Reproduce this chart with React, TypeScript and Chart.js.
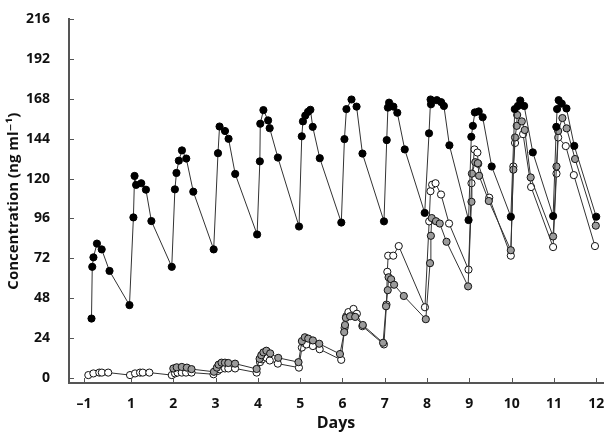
import React, { useEffect, useRef } from 'react';
import { Chart, registerables } from 'chart.js';

Chart.register(...registerables);

// Black (filled) series
const blackDays = [
  0.065, 0.083, 0.111, 0.194, 0.306, 0.491, 0.963,
  1.056, 1.083, 1.12, 1.241, 1.352, 1.481, 1.963,
  2.037, 2.074, 2.13, 2.204, 2.306, 2.472, 2.954,
  3.056, 3.093, 3.222, 3.306, 3.463, 3.981,
  4.046, 4.056, 4.13, 4.241, 4.278, 4.472, 4.972,
  5.037, 5.065, 5.12, 5.185, 5.241, 5.296, 5.463, 5.972,
  6.046, 6.093, 6.213, 6.333, 6.472, 6.981,
  7.046, 7.074, 7.102, 7.204, 7.296, 7.472, 7.944,
  8.046, 8.083, 8.093, 8.231, 8.333, 8.398, 8.528, 8.981,
  9.046, 9.083, 9.13, 9.222, 9.315, 9.528, 9.981,
  10.074, 10.148, 10.204, 10.296, 10.5, 10.981,
  11.056, 11.074, 11.111, 11.185, 11.296, 11.481, 12.0,
];
const blackConc = [
  35.6, 66.8, 72.5, 80.8, 77.3, 64.3, 43.7,
  96.6, 121.6, 116.2, 117.2, 113.3, 94.4, 66.8,
  113.5, 123.4, 130.8, 137.0, 132.1, 112.1, 77.3,
  135.3, 151.4, 148.7, 144.0, 122.8, 86.3,
  130.4, 153.1, 161.3, 155.1, 150.4, 132.7, 91.1,
  145.5, 154.5, 158.0, 160.3, 161.5, 151.2, 132.3, 93.5,
  143.8, 161.9, 167.7, 163.4, 135.1, 94.2,
  143.2, 162.8, 165.8, 163.4, 159.7, 137.6, 99.3,
  147.3, 167.7, 164.8, 167.3, 166.1, 163.8, 140.1, 95.0,
  145.2, 151.8, 159.9, 160.5, 157.0, 127.3, 97.0,
  161.9, 163.8, 167.1, 163.8, 135.8, 97.4,
  151.2, 161.9, 167.3, 165.2, 162.3, 139.7, 97.0,
];

// Open (white) series
const whiteDays = [
  -0.01, 0.11, 0.25, 0.31, 0.46,
  0.976, 1.095, 1.213, 1.277, 1.433,
  1.963, 2.04, 2.1, 2.2, 2.3, 2.43,
  2.95, 3.05, 3.1, 3.22, 3.3, 3.46,
  3.97, 4.05, 4.1, 4.2, 4.28, 4.47,
  4.97, 5.04, 5.08, 5.15, 5.3, 5.46,
  5.97, 6.05, 6.09, 6.14, 6.26, 6.34, 6.47,
  6.98, 7.04, 7.06, 7.08, 7.2, 7.33,
  7.95, 8.05, 8.08, 8.12, 8.2, 8.33, 8.52,
  8.98, 9.05, 9.12, 9.19, 9.21, 9.47,
  9.98, 10.04, 10.08, 10.27, 10.46,
  10.98, 11.06, 11.1, 11.28, 11.47,
  11.97,
];
const whiteConc = [
  1.5, 2.5, 3, 3, 3,
  1.5, 2.5, 3, 3, 3,
  1.5, 2.5, 3, 3, 3, 3,
  2, 4, 5, 5.5, 5.5, 5.5,
  3, 9.3, 11, 12, 10.3, 8.4,
  6, 18.1, 21, 20, 19, 17.1,
  10.7, 30, 37, 39.5, 41.4, 38.5, 31,
  20, 44, 63.8, 73.5, 73.5, 79.3,
  42.4, 94.2, 112.4, 116.3, 117.2, 110.4, 92.9,
  65.1, 117.2, 137.6, 135.7, 128.9, 108.5,
  73.5, 127.3, 141.5, 146.8, 114.9,
  78.7, 123, 144.8, 139.6, 122.1,
  79.3,
];

// Grey series
const grayDays = [
  2.0, 2.08, 2.2, 2.32, 2.43,
  2.96, 3.03, 3.07, 3.14, 3.22, 3.3, 3.46,
  3.97, 4.04, 4.08, 4.13, 4.2, 4.29, 4.48,
  4.96, 5.04, 5.11, 5.19, 5.3, 5.45,
  5.94, 6.04, 6.06, 6.08, 6.18, 6.3, 6.48,
  6.96, 7.03, 7.07, 7.09, 7.15, 7.22, 7.45,
  7.97, 8.07, 8.09, 8.11, 8.21, 8.3, 8.46,
  8.97, 9.05, 9.06, 9.14, 9.2, 9.23, 9.46,
  9.98, 10.04, 10.08, 10.12, 10.13, 10.24, 10.31, 10.45,
  10.98, 11.06, 11.1, 11.2, 11.3, 11.5,
  11.99,
];
const grayConc = [
  5.5, 6.2, 6.4, 6, 5.1,
  3.5, 6, 7.8, 9, 9, 8.8, 8.4,
  5.2, 11.3, 13.5, 15.2, 16.2, 14.6, 11.9,
  9.3, 22, 24.3, 23.5, 22.4, 20.4,
  14.2, 27.4, 31.7, 36, 37, 36.6, 31.7,
  21, 43, 52.7, 60.5, 59.3, 56, 49.2,
  35.2, 69, 85.5, 96.2, 94.3, 92.9, 81.9,
  55, 106, 123, 129.9, 129.3, 121.7, 106.5,
  76.8, 125.4, 144.8, 151.8, 158.4, 154.5, 149.3, 120.7,
  85.1, 127.3, 148.7, 156.5, 150.3, 131.8,
  91.6,
];

const xTickValues = [-0.11, 1, 2, 3, 4, 5, 6, 7, 8, 9, 10, 11, 12];
const xTickLabels = ['\u20131', '1', '2', '3', '4', '5', '6', '7', '8', '9', '10', '11', '12'];
const yTickValues = [0, 24, 48, 72, 96, 120, 144, 168, 192, 216];

const FONT = '"Open Sans", "DejaVu Sans", sans-serif';
const AXIS = '#555';
const LINE = '#333';

export default function App() {
  const ref = useRef<HTMLCanvasElement>(null);

  useEffect(() => {
    if (!ref.current) return;
    const toPts = (xs: number[], ys: number[]) => xs.map((x, i) => ({ x, y: ys[i] }));

    const tickMarks = {
      id: 'tickMarks',
      afterDraw(chart: any) {
        const ctx = chart.ctx;
        const xs = chart.scales.x;
        const ys = chart.scales.y;
        ctx.save();
        ctx.strokeStyle = AXIS;
        ctx.lineWidth = 1;
        ctx.beginPath();
        for (const t of xs.ticks) {
          const px = Math.round(xs.getPixelForValue(t.value)) + 0.5;
          ctx.moveTo(px, ys.bottom);
          ctx.lineTo(px, ys.bottom - 5);
        }
        for (const t of ys.ticks) {
          const py = Math.round(ys.getPixelForValue(t.value)) + 0.5;
          ctx.moveTo(xs.left, py);
          ctx.lineTo(xs.left + 5, py);
        }
        ctx.stroke();
        ctx.restore();
      },
    };

    const common = {
      showLine: true,
      borderColor: LINE,
      borderWidth: 1,
      pointRadius: 3.6,
      pointBorderWidth: 1,
      pointBorderColor: '#111',
      pointHoverRadius: 3.6,
    };

    const chart = new Chart(ref.current, {
      type: 'scatter',
      data: {
        datasets: [
          { ...common, label: 'black', data: toPts(blackDays, blackConc), pointBackgroundColor: '#000', pointBorderColor: '#000' },
          { ...common, label: 'grey', data: toPts(grayDays, grayConc), pointBackgroundColor: '#9b9b9b' },
          { ...common, label: 'white', data: toPts(whiteDays, whiteConc), pointBackgroundColor: '#fff' },
        ],
      },
      options: {
        responsive: false,
        animation: false,
        devicePixelRatio: 1,
        layout: { padding: { top: 7, right: 11, left: 0, bottom: 0 } },
        plugins: { legend: { display: false }, tooltip: { enabled: false } },
        scales: {
          x: {
            type: 'linear',
            min: -0.467,
            max: 12.16,
            afterBuildTicks: (s: any) => { s.ticks = xTickValues.map((v) => ({ value: v })); },
            afterFit: (s: any) => { s.height = 50; },
            grid: { display: false },
            border: { display: true, color: AXIS, width: 2 },
            ticks: {
              autoSkip: false,
              maxRotation: 0,
              padding: 5,
              color: '#111',
              font: { family: FONT, size: 14, weight: 'bold' },
              callback: (_v: any, i: number) => xTickLabels[i],
            },
            title: {
              display: true,
              text: 'Days',
              color: '#111',
              font: { family: FONT, size: 16, weight: 'bold' },
              padding: { top: 0, bottom: 0 },
            },
          },
          y: {
            type: 'linear',
            min: -3.27,
            max: 216,
            afterBuildTicks: (s: any) => { s.ticks = yTickValues.map((v) => ({ value: v })); },
            afterFit: (s: any) => { s.width = 69; },
            grid: { display: false },
            border: { display: true, color: AXIS, width: 2 },
            ticks: {
              padding: 11,
              color: '#111',
              font: { family: FONT, size: 14, weight: 'bold' },
            },
            title: {
              display: true,
              text: 'Concentration (ng ml\u207B\u00B9)',
              color: '#111',
              font: { family: FONT, size: 15, weight: 'bold' },
              padding: { top: 5, bottom: 0 },
            },
          },
        },
      } as any,
      plugins: [tickMarks],
    });
    return () => chart.destroy();
  }, []);

  return (
    <div style={{ position: 'absolute', left: 0, top: 0, width: 614, height: 433, background: '#fff' }}>
      <canvas ref={ref} width={614} height={433} />
    </div>
  );
}
